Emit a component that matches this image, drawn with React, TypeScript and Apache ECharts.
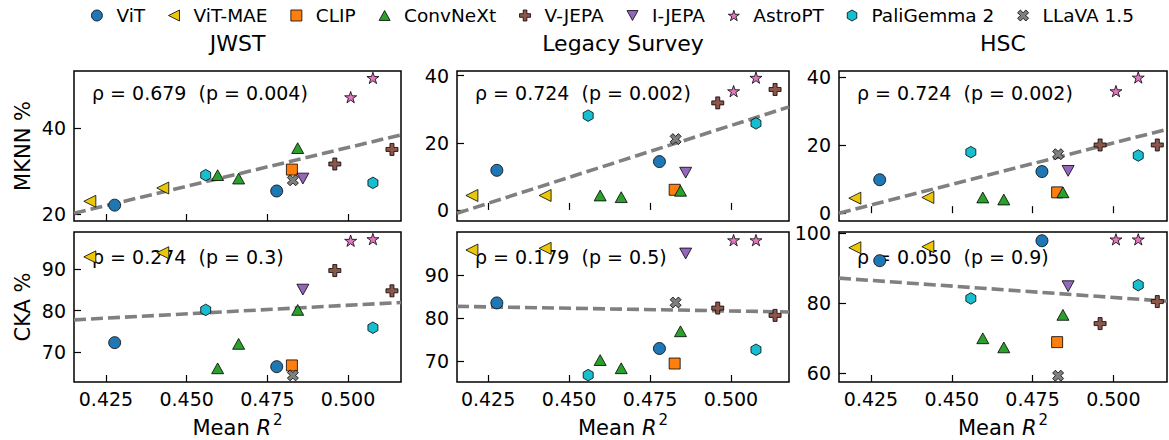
import React, { useEffect, useRef } from "react";
import * as echarts from "echarts";

// ---------- data ----------
const modelNames = ["ViT", "ViT-MAE", "CLIP", "ConvNeXt", "V-JEPA", "I-JEPA", "AstroPT", "PaliGemma 2", "LLaVA 1.5"];
const modelColors = ["#1f77b4", "#ebc70a", "#ff7f0e", "#2ca02c", "#8c564b", "#9467bd", "#e377c2", "#17becf", "#7f7f7f"];

// which model each point belongs to
const pointModel = [0, 0, 1, 1, 2, 3, 3, 3, 4, 4, 5, 6, 6, 7, 7, 8];
const meanR2 = [0.4277, 0.4779, 0.42, 0.4426, 0.4826, 0.4596, 0.4661, 0.4844, 0.4959, 0.5136, 0.486, 0.5008, 0.5077, 0.4559, 0.5077, 0.4829];

const mknnJWST = [22.1, 25.4, 23.0, 26.1, 30.4, 29.1, 28.3, 35.4, 31.7, 35.1, 28.3, 47.3, 51.8, 29.1, 27.3, 27.9];
const mknnLegacy = [11.8, 14.4, 4.3, 4.3, 6.0, 4.3, 3.8, 5.7, 31.9, 35.9, 11.1, 35.4, 39.4, 28.1, 25.8, 21.1];
const mknnHSC = [9.8, 12.2, 4.4, 4.6, 6.1, 4.6, 4.0, 6.1, 20.0, 20.0, 12.4, 35.8, 39.8, 17.9, 16.9, 17.3];
const ckaJWST = [72.3, 66.5, 93.0, 94.0, 66.8, 66.1, 72.0, 80.2, 89.7, 84.8, 85.1, 96.9, 97.3, 80.2, 75.9, 64.4];
const ckaLegacy = [83.5, 72.9, 95.8, 96.2, 69.4, 70.2, 68.3, 76.9, 82.3, 80.6, 95.0, 98.1, 98.1, 66.7, 72.6, 83.6];
const ckaHSC = [92.2, 97.9, 95.9, 96.2, 68.9, 70.0, 67.4, 76.7, 74.2, 80.5, 84.9, 98.3, 98.3, 81.4, 85.2, 59.3];

const panelValues = [mknnJWST, mknnLegacy, mknnHSC, ckaJWST, ckaLegacy, ckaHSC];

// trend line values at the left / right edge of each panel
const trendStart = [20.2, -1.0, 0.0, 77.8, 82.7, 87.2];
const trendEnd = [38.5, 30.7, 24.6, 82.0, 81.4, 80.6];

const panelTitles = ["JWST", "Legacy Survey", "HSC"];
const rhoLabels = [
  "ρ = 0.679  (p = 0.004)",
  "ρ = 0.724  (p = 0.002)",
  "ρ = 0.724  (p = 0.002)",
  "ρ = 0.274  (p = 0.3)",
  "ρ = 0.179  (p = 0.5)",
  "ρ = 0.050  (p = 0.9)",
];
const rowNames = ["MKNN %", "CKA %"];

const xTicks = [0.425, 0.45, 0.475, 0.5];
const xRanges = [[0.4151, 0.5164], [0.4154, 0.5179], [0.4151, 0.5166]];
const yTicks = [[20, 40], [0, 20, 40], [0, 20, 40], [70, 80, 90], [70, 80, 90], [60, 80, 100]];
const yRanges = [[18.4, 53.4], [-3.3, 41.4], [-2.3, 41.7], [62.8, 99.0], [65.1, 100.0], [57.5, 100.4]];

// ---------- layout ----------
const colLeft = [74, 457, 839];
const colWidth = [327, 332, 328];
const rowTop = [71, 232];
const rowHeight = 150;
const FONT = "DejaVu Sans";

function polyPath(pts: number[][]): string {
  return "path://" + pts.map((p, i) => (i === 0 ? "M" : "L") + p[0].toFixed(3) + "," + p[1].toFixed(3)).join("") + "Z";
}
function starPath(): string {
  const pts: number[][] = [];
  for (let k = 0; k < 10; k++) {
    const r = k % 2 === 0 ? 10 : 3.82;
    const a = -Math.PI / 2 + (k * Math.PI) / 5;
    pts.push([10 + r * Math.cos(a), 10 + r * Math.sin(a)]);
  }
  return polyPath(pts);
}
function hexPath(): string {
  const pts: number[][] = [];
  for (let k = 0; k < 6; k++) {
    const a = -Math.PI / 2 + (k * Math.PI) / 3;
    pts.push([10 + 10 * Math.cos(a), 10 + 10 * Math.sin(a)]);
  }
  return polyPath(pts);
}
function xPath(): string {
  const base = [[-1, -3], [1, -3], [1, -1], [3, -1], [3, 1], [1, 1], [1, 3], [-1, 3], [-1, 1], [-3, 1], [-3, -1], [-1, -1]];
  const c = Math.cos(Math.PI / 4), s = Math.sin(Math.PI / 4);
  return polyPath(base.map(([x, y]) => [10 + 3 * (x * c - y * s), 10 + 3 * (x * s + y * c)]));
}

const modelSymbols = [
  "circle",
  polyPath([[0, 10], [20, 0], [20, 20]]),
  "rect",
  polyPath([[10, 0], [20, 18], [0, 18]]),
  polyPath([[4, 0], [8, 0], [8, 4], [12, 4], [12, 8], [8, 8], [8, 12], [4, 12], [4, 8], [0, 8], [0, 4], [4, 4]]),
  polyPath([[0, 0], [20, 0], [10, 18]]),
  starPath(),
  hexPath(),
  xPath(),
];
const modelSizes = [12, 12, 11, 12, 12, 12, 12, 11.5, 11];

export default function App() {
  const ref = useRef<HTMLDivElement>(null);
  useEffect(() => {
    if (!ref.current) return;
    const chart = echarts.init(ref.current, undefined, { renderer: "svg" });

    const grids: any[] = [];
    const xAxes: any[] = [];
    const yAxes: any[] = [];
    const series: any[] = [];
    const graphics: any[] = [];

    for (let p = 0; p < 6; p++) {
      const row = Math.floor(p / 3);
      const col = p % 3;
      grids.push({
        left: colLeft[col],
        top: rowTop[row],
        width: colWidth[col],
        height: rowHeight,
        show: true,
        borderColor: "#000",
        borderWidth: 1.5,
        backgroundColor: "transparent",
      });
      xAxes.push({
        type: "value",
        gridIndex: p,
        min: xRanges[col][0],
        max: xRanges[col][1],
        axisLine: { show: false },
        splitLine: { show: false },
        axisTick: { show: true, inside: true, length: 7, customValues: xTicks, lineStyle: { color: "#000", width: 1.2 } },
        axisLabel: {
          show: row === 1,
          customValues: xTicks,
          formatter: (v: number) => v.toFixed(3),
          fontSize: 19,
          color: "#000",
          margin: 7,
          fontFamily: FONT,
        },
        name: row === 1 ? "{a|Mean }{b|R}{c|2}" : "",
        nameLocation: "middle",
        nameGap: 30,
        nameTextStyle: {
          fontSize: 21,
          color: "#000",
          fontFamily: FONT,
          rich: {
            a: { fontSize: 21, lineHeight: 26, color: "#000", fontFamily: FONT, verticalAlign: "bottom" },
            b: { fontSize: 21, lineHeight: 26, color: "#000", fontFamily: FONT, fontStyle: "italic", verticalAlign: "bottom", padding: [0, 2, 0, 0] },
            c: { fontSize: 15, lineHeight: 14, color: "#000", fontFamily: FONT, verticalAlign: "top" },
          },
        },
      });
      yAxes.push({
        type: "value",
        gridIndex: p,
        min: yRanges[p][0],
        max: yRanges[p][1],
        axisLine: { show: false },
        splitLine: { show: false },
        axisTick: { show: true, inside: true, length: 7, customValues: yTicks[p], lineStyle: { color: "#000", width: 1.2 } },
        axisLabel: {
          customValues: yTicks[p],
          fontSize: 19,
          color: "#000",
          margin: 8,
          fontFamily: FONT,
        },
        name: col === 0 ? rowNames[row] : "",
        nameLocation: "middle",
        nameGap: 41,
        nameTextStyle: { fontSize: 21, color: "#000", fontFamily: FONT },
      });

      // trend line
      series.push({
        type: "line",
        xAxisIndex: p,
        yAxisIndex: p,
        data: [[xRanges[col][0], trendStart[p]], [xRanges[col][1], trendEnd[p]]],
        symbol: "none",
        silent: true,
        z: 1,
        lineStyle: { color: "#808080", width: 3.6, type: [12, 5] },
      });

      for (let m = 0; m < modelNames.length; m++) {
        const data: number[][] = [];
        for (let i = 0; i < pointModel.length; i++) {
          if (pointModel[i] === m) data.push([meanR2[i], panelValues[p][i]]);
        }
        series.push({
          type: "scatter",
          name: modelNames[m],
          xAxisIndex: p,
          yAxisIndex: p,
          data,
          symbol: modelSymbols[m],
          symbolSize: modelSizes[m],
          symbolKeepAspect: true,
          z: 3,
          itemStyle: { color: modelColors[m], borderColor: "#000", borderWidth: 0.8, opacity: 1 },
        });
      }

      graphics.push({
        type: "text",
        x: colLeft[col] + 18,
        y: row === 0 ? 93 : 257,
        z: 0,
        style: {
          text: rhoLabels[p],
          fontSize: 19,
          fontFamily: FONT,
          fill: "#000",
          textVerticalAlign: "middle",
          verticalAlign: "middle",
        },
      });
    }

    for (let c = 0; c < 3; c++) {
      graphics.push({
        type: "text",
        x: colLeft[c] + colWidth[c] / 2,
        y: 43,
        style: {
          text: panelTitles[c],
          fontSize: 22,
          fontFamily: FONT,
          fill: "#000",
          align: "center",
          verticalAlign: "middle",
          textAlign: "center",
          textVerticalAlign: "middle",
        },
      });
    }

    chart.setOption({
      animation: false,
      backgroundColor: "#fff",
      textStyle: { fontFamily: FONT },
      legend: {
        top: 1,
        left: 86,
        itemWidth: 11,
        itemHeight: 11,
        itemGap: 23,
        textStyle: { fontSize: 18.5, color: "#000", fontFamily: FONT, padding: [0, 0, 0, 9] },
        data: modelNames.map((n, i) => ({
          name: n,
          icon: modelSymbols[i],
          itemStyle: { color: modelColors[i], borderColor: "#000", borderWidth: 0.8 },
        })),
      },
      grid: grids,
      xAxis: xAxes,
      yAxis: yAxes,
      series,
      graphic: graphics,
    });

    return () => chart.dispose();
  }, []);

  return <div ref={ref} style={{ position: "fixed", left: 0, top: 0, width: 1169, height: 440 }} />;
}
